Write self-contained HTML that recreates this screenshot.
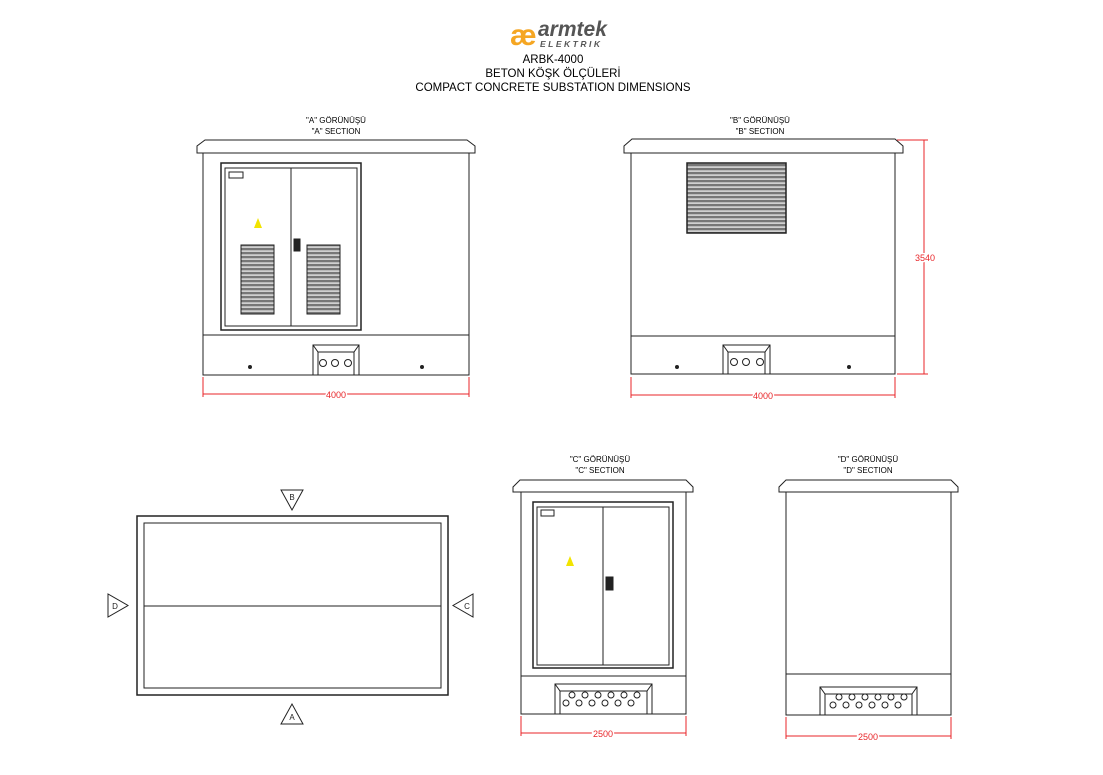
<!DOCTYPE html>
<html><head><meta charset="utf-8"><style>
html,body{margin:0;padding:0;background:#fff;}
svg{display:block;font-family:"Liberation Sans",sans-serif;}
</style></head><body>
<svg width="1103" height="775" viewBox="0 0 1103 775" xmlns="http://www.w3.org/2000/svg">
<defs>
<pattern id="lv" width="4" height="4" patternUnits="userSpaceOnUse">
<rect width="4" height="4" fill="#777"/><rect y="2.4" width="4" height="1.4" fill="#e6e6e6"/>
</pattern>
</defs>
<g>
<text x="510" y="45" font-size="30" font-weight="bold" fill="#f5a623" font-family="Liberation Sans">æ</text>
<text x="538" y="36" font-size="21" font-weight="bold" font-style="italic" fill="#555">armtek</text>
<text x="540" y="47" font-size="8.5" font-weight="bold" font-style="italic" fill="#555" letter-spacing="2.5">ELEKTRIK</text>
<text x="553" y="63" font-size="11.5" text-anchor="middle" fill="#000">ARBK-4000</text>
<text x="553" y="77" font-size="11.5" text-anchor="middle" fill="#000">BETON KÖŞK ÖLÇÜLERİ</text>
<text x="553" y="91" font-size="11.5" text-anchor="middle" fill="#000">COMPACT CONCRETE SUBSTATION DIMENSIONS</text>
</g>
<g font-size="8" text-anchor="middle" fill="#000">
<text x="336" y="123">"A" GÖRÜNÜŞÜ</text><text x="336" y="134">"A" SECTION</text>
<text x="760" y="123">"B" GÖRÜNÜŞÜ</text><text x="760" y="134">"B" SECTION</text>
<text x="600" y="462">"C" GÖRÜNÜŞÜ</text><text x="600" y="473">"C" SECTION</text>
<text x="868" y="462">"D" GÖRÜNÜŞÜ</text><text x="868" y="473">"D" SECTION</text>
</g>
<g fill="none" stroke="#222" stroke-width="1">
<path d="M205 140 H467 L475 146 V153 H197 V146 Z" fill="#fff"/>
<rect x="203" y="153" width="266" height="222"/>
<line x1="203" y1="335" x2="469" y2="335"/>
<rect x="221" y="163" width="140" height="167" stroke-width="1.5"/>
<rect x="225" y="168" width="132" height="158"/>
<line x1="291" y1="168" x2="291" y2="326"/>
<rect x="229" y="172" width="14" height="6"/>
<rect x="241" y="245" width="33" height="69" fill="url(#lv)"/>
<rect x="307" y="245" width="33" height="69" fill="url(#lv)"/>
<rect x="294" y="239" width="6" height="12" fill="#222"/>
<path d="M313 375 V345 H359 V375 M313 345 L318 352 H354 L359 345 M318 352 V375 M354 352 V375"/>
<circle cx="323" cy="363" r="3.5"/><circle cx="335" cy="363" r="3.5"/><circle cx="348" cy="363" r="3.5"/>
<circle cx="250" cy="367" r="1.5" fill="#222"/><circle cx="422" cy="367" r="1.5" fill="#222"/>
<path d="M632 139 H895 L903 146 V153 H624 V146 Z" fill="#fff"/>
<rect x="631" y="153" width="264" height="221"/>
<line x1="631" y1="336" x2="895" y2="336"/>
<rect x="687" y="163" width="99" height="70" fill="url(#lv)" stroke-width="1.5"/>
<path d="M723 374 V345 H770 V374 M723 345 L728 352 H765 L770 345 M728 352 V374 M765 352 V374"/>
<circle cx="734" cy="362" r="3.5"/><circle cx="746" cy="362" r="3.5"/><circle cx="760" cy="362" r="3.5"/>
<circle cx="677" cy="367" r="1.5" fill="#222"/><circle cx="849" cy="367" r="1.5" fill="#222"/>
<path d="M520 480 H686 L693 487 V492 H513 V487 Z" fill="#fff"/>
<rect x="521" y="492" width="165" height="222"/>
<line x1="521" y1="676" x2="686" y2="676"/>
<rect x="533" y="502" width="140" height="166" stroke-width="1.5"/>
<rect x="537" y="507" width="132" height="158"/>
<line x1="603" y1="507" x2="603" y2="665"/>
<rect x="541" y="510" width="13" height="6"/>
<rect x="606" y="577" width="7" height="13" fill="#222"/>
<path d="M555 714 V684 H652 V714 M555 684 L560 691 H647 L652 684 M560 691 V714 M647 691 V714"/>
<g><circle cx="572" cy="695" r="3"/><circle cx="585" cy="695" r="3"/><circle cx="598" cy="695" r="3"/><circle cx="611" cy="695" r="3"/><circle cx="624" cy="695" r="3"/><circle cx="637" cy="695" r="3"/>
<circle cx="566" cy="703" r="3"/><circle cx="579" cy="703" r="3"/><circle cx="592" cy="703" r="3"/><circle cx="605" cy="703" r="3"/><circle cx="618" cy="703" r="3"/><circle cx="631" cy="703" r="3"/></g>
<path d="M786 480 H951 L958 487 V492 H779 V487 Z" fill="#fff"/>
<rect x="786" y="492" width="165" height="223"/>
<line x1="786" y1="674" x2="951" y2="674"/>
<path d="M820 715 V687 H917 V715 M820 687 L825 694 H912 L917 687 M825 694 V715 M912 694 V715"/>
<g><circle cx="839" cy="697" r="3"/><circle cx="852" cy="697" r="3"/><circle cx="865" cy="697" r="3"/><circle cx="878" cy="697" r="3"/><circle cx="891" cy="697" r="3"/><circle cx="904" cy="697" r="3"/>
<circle cx="833" cy="705" r="3"/><circle cx="846" cy="705" r="3"/><circle cx="859" cy="705" r="3"/><circle cx="872" cy="705" r="3"/><circle cx="885" cy="705" r="3"/><circle cx="898" cy="705" r="3"/></g>
<rect x="137" y="516" width="311" height="179" stroke-width="1.5"/>
<rect x="144" y="523" width="297" height="165"/>
<line x1="144" y1="606" x2="441" y2="606"/>
<path d="M281 490 H303 L292 510 Z"/>
<path d="M281 724 H303 L292 704 Z"/>
<path d="M108 594 V617 L128 605.5 Z"/>
<path d="M473 594 V617 L453 605.5 Z"/>
</g>
<g font-size="8" text-anchor="middle" fill="#222">
<text x="292" y="500">B</text><text x="292" y="720">A</text>
<text x="115" y="609">D</text><text x="467" y="609">C</text>
</g>
<g fill="#f2e400">
<path d="M258 218 L262 228 H254 Z"/>
<path d="M570 556 L574 566 H566 Z"/>
</g>
<g stroke="#e8262a" stroke-width="1" fill="none">
<path d="M203 377 V397 M469 377 V397 M203 394 H469"/>
<path d="M631 377 V398 M895 377 V398 M631 395 H895"/>
<path d="M897 140 H928 M897 374 H928 M924 140 V374"/>
<path d="M521 716 V736 M686 716 V736 M521 733 H686"/>
<path d="M786 717 V739 M951 717 V739 M786 736 H951"/>
</g>
<g font-size="9" fill="#e8262a" text-anchor="middle">
<text x="336" y="398" style="paint-order:stroke" stroke="#fff" stroke-width="3">4000</text>
<text x="763" y="399" style="paint-order:stroke" stroke="#fff" stroke-width="3">4000</text>
<text x="925" y="261" style="paint-order:stroke" stroke="#fff" stroke-width="3">3540</text>
<text x="603" y="737" style="paint-order:stroke" stroke="#fff" stroke-width="3">2500</text>
<text x="868" y="740" style="paint-order:stroke" stroke="#fff" stroke-width="3">2500</text>
</g>
</svg>
</body></html>
